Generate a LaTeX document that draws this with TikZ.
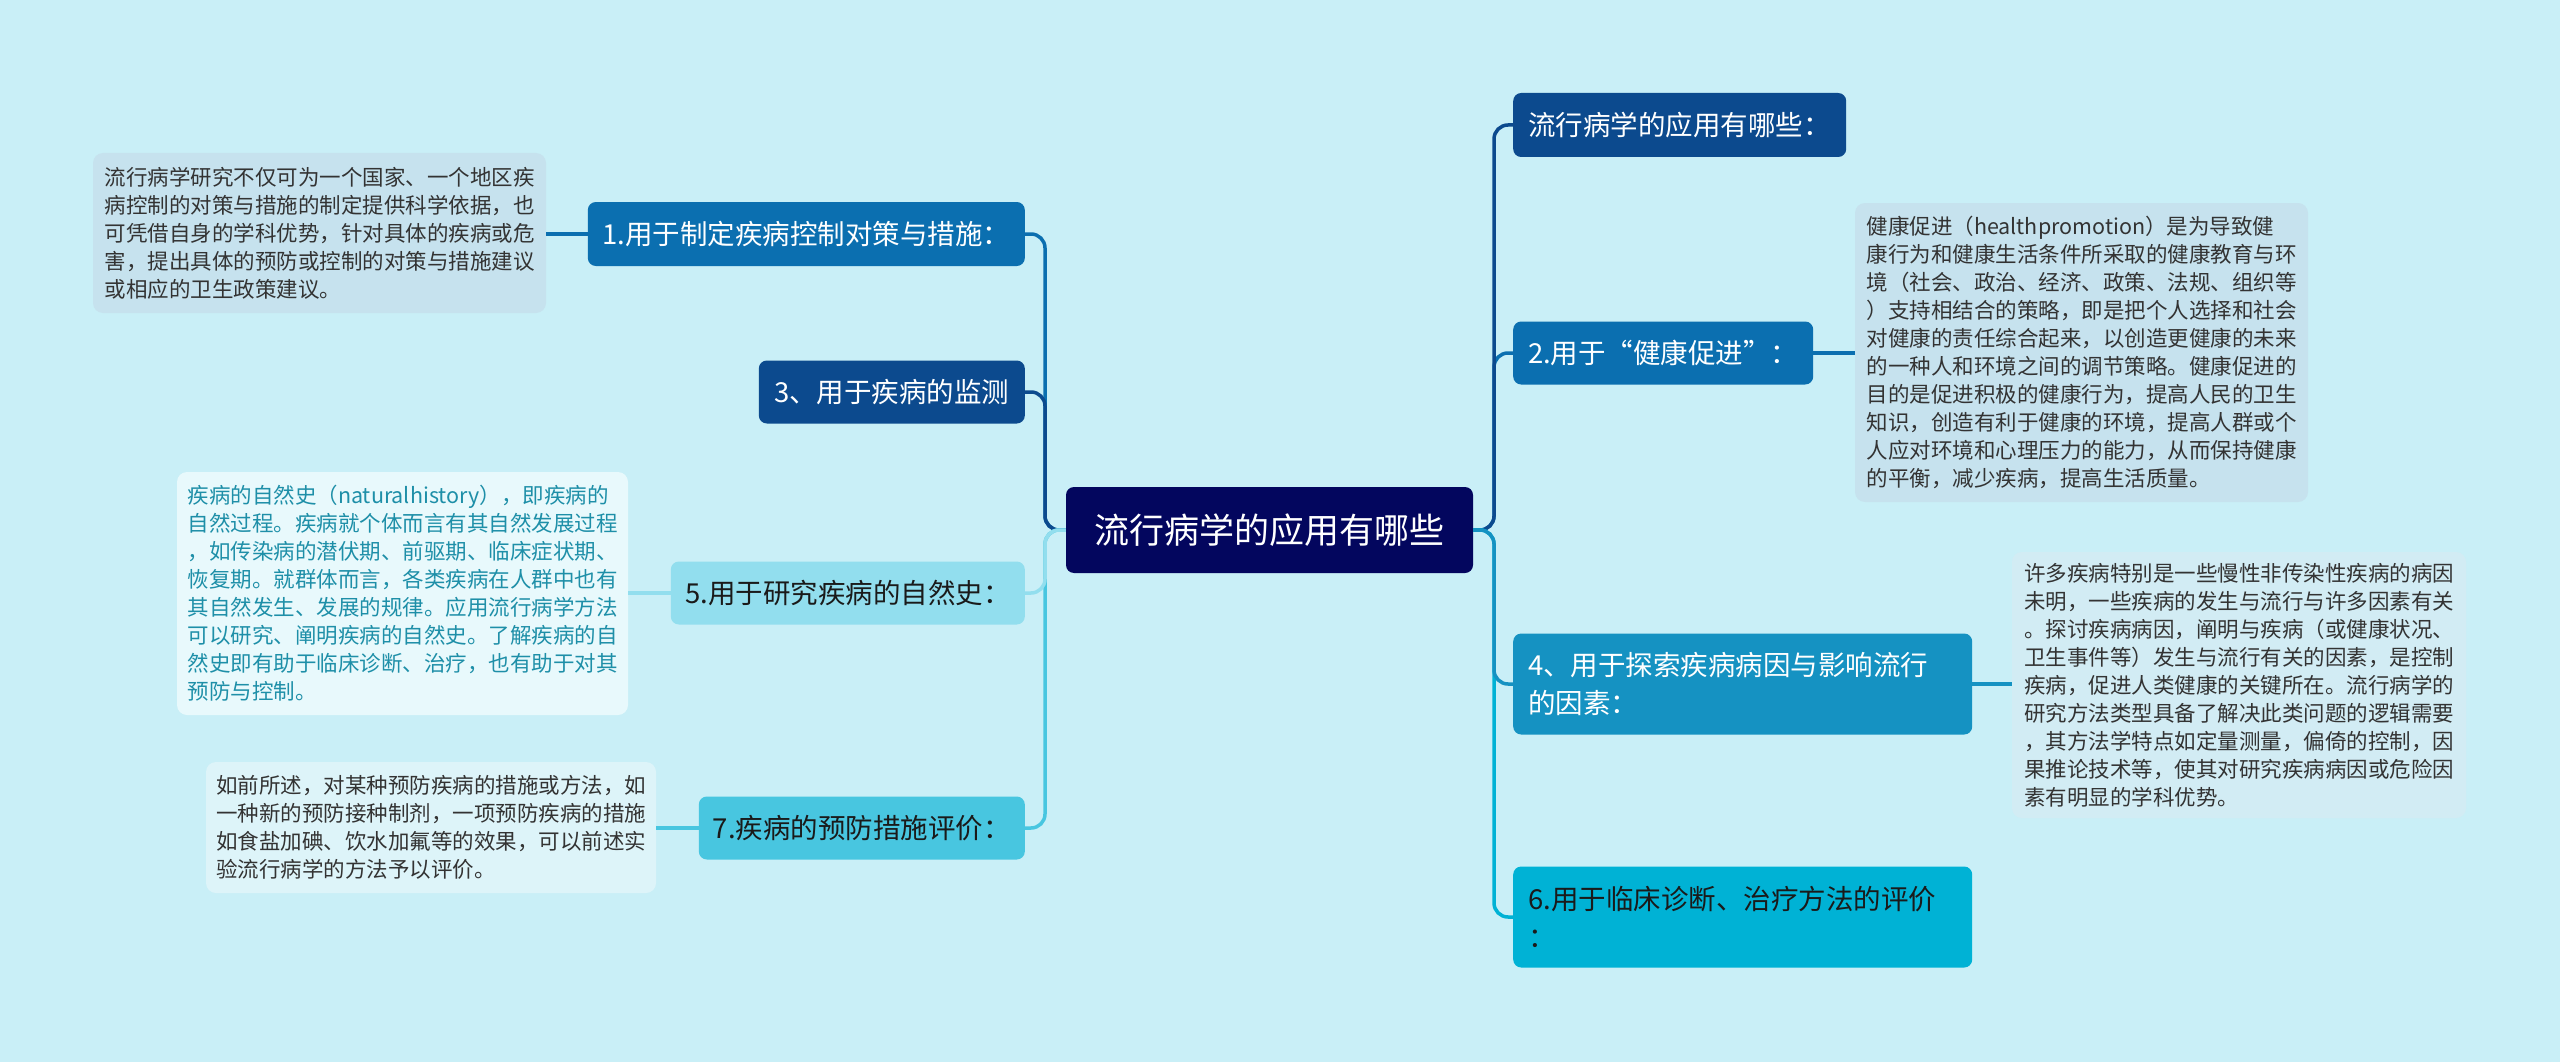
\documentclass[tikz,border=0pt]{standalone}
\usepackage{fontspec}
\newfontfamily\cjk{Noto Sans CJK SC}
\definecolor{bg}{HTML}{C9EFF7}
\definecolor{cnav}{HTML}{03065E}
\definecolor{dblue}{HTML}{0C4A8E}
\definecolor{mblue}{HTML}{0B6FB0}
\definecolor{sblue}{HTML}{1592C2}
\definecolor{cyanA}{HTML}{00B2D5}
\definecolor{mcyan}{HTML}{48C6E0}
\definecolor{lcyan}{HTML}{92DEEE}
\definecolor{dgray}{HTML}{C6E2EE}
\definecolor{dgrayb}{HTML}{D2ECF4}
\definecolor{dlight}{HTML}{E8F9FC}
\definecolor{dlightb}{HTML}{DDF4F9}
\definecolor{txt}{HTML}{333333}
\definecolor{dtxt}{HTML}{1A1A1A}
\definecolor{teal}{HTML}{1E8FA8}
\begin{document}
\begin{tikzpicture}[x=1pt,y=-1pt,
  title/.style={rounded corners=8, inner xsep=12, inner ysep=0, align=left,
    font=\cjk\fontsize{27.5}{38}\selectfont},
  wtitle/.style={title, inner xsep=15, text width=429, minimum height=101, anchor=west},
  detail/.style={rounded corners=10, inner sep=0, align=left,
    font=\cjk\fontsize{21.5}{28}\selectfont, text=txt},
  conn/.style={line width=3.5, rounded corners=14}]
\useasboundingbox[fill=bg] (0,0) rectangle (2560,1062);

% centre
\node[title, fill=cnav, text=white, minimum width=407, minimum height=86,
  font=\cjk\fontsize{35}{40}\selectfont] (c) at (1269.5,530) {流行病学的应用有哪些};
\coordinate (ls) at (1045,530);
\coordinate (rs) at (1494,530);

% left titles
\node[title, fill=mblue, text=white, minimum width=437, minimum height=64, anchor=east] (L1) at (1025,234) {1.用于制定疾病控制对策与措施：};
\node[title, fill=dblue, text=white, minimum width=266, minimum height=63, anchor=east] (L3) at (1025,392) {3、用于疾病的监测};
\node[title, fill=lcyan, text=dtxt, minimum width=354, minimum height=63, anchor=east] (L5) at (1025,593) {5.用于研究疾病的自然史：};
\node[title, fill=mcyan, text=dtxt, minimum width=326, minimum height=63, anchor=east] (L7) at (1025,828) {7.疾病的预防措施评价：};

% right titles
\node[title, fill=dblue, text=white, minimum width=333, minimum height=64, anchor=west] (R0) at (1513,125) {流行病学的应用有哪些：};
\node[title, fill=mblue, text=white, minimum width=300, minimum height=63, anchor=west] (R2) at (1513,353) {2.用于“健康促进”：};
\node[wtitle, fill=sblue, text=white] (R4) at (1513,684) {4、用于探索疾病病因与影响流行\\的因素：};
\node[wtitle, fill=cyanA, text=dtxt] (R6) at (1513,917) {6.用于临床诊断、治疗方法的评价\\：};

% detail boxes
\node[detail, fill=dgray, minimum width=453, minimum height=160] (L1d) at (319.5,233) {流行病学研究不仅可为一个国家、一个地区疾\\病控制的对策与措施的制定提供科学依据，也\\可凭借自身的学科优势，针对具体的疾病或危\\害，提出具体的预防或控制的对策与措施建议\\或相应的卫生政策建议。};
\node[detail, fill=dlight, text=teal, minimum width=451, minimum height=243] (L5d) at (402.5,593.5) {疾病的自然史（naturalhistory），即疾病的\\自然过程。疾病就个体而言有其自然发展过程\\，如传染病的潜伏期、前驱期、临床症状期、\\恢复期。就群体而言，各类疾病在人群中也有\\其自然发生、发展的规律。应用流行病学方法\\可以研究、阐明疾病的自然史。了解疾病的自\\然史即有助于临床诊断、治疗，也有助于对其\\预防与控制。};
\node[detail, fill=dlightb, minimum width=450, minimum height=131] (L7d) at (431,827.5) {如前所述，对某种预防疾病的措施或方法，如\\一种新的预防接种制剂，一项预防疾病的措施\\如食盐加碘、饮水加氟等的效果，可以前述实\\验流行病学的方法予以评价。};
\node[detail, fill=dgray, minimum width=453, minimum height=299] (R2d) at (2081.5,352.5) {健康促进（healthpromotion）是为导致健\\康行为和健康生活条件所采取的健康教育与环\\境（社会、政治、经济、政策、法规、组织等\\）支持相结合的策略，即是把个人选择和社会\\对健康的责任综合起来，以创造更健康的未来\\的一种人和环境之间的调节策略。健康促进的\\目的是促进积极的健康行为，提高人民的卫生\\知识，创造有利于健康的环境，提高人群或个\\人应对环境和心理压力的能力，从而保持健康\\的平衡，减少疾病，提高生活质量。};
\node[detail, fill=dgrayb, minimum width=454, minimum height=266] (R4d) at (2239,685) {许多疾病特别是一些慢性非传染性疾病的病因\\未明，一些疾病的发生与流行与许多因素有关\\。探讨疾病病因，阐明与疾病（或健康状况、\\卫生事件等）发生与流行有关的因素，是控制\\疾病，促进人类健康的关键所在。流行病学的\\研究方法类型具备了解决此类问题的逻辑需要\\，其方法学特点如定量测量，偏倚的控制，因\\果推论技术等，使其对研究疾病病因或危险因\\素有明显的学科优势。};

% connectors: left
\draw[conn, mblue] (c.west) -- (ls) |- (L1.east);
\draw[conn, dblue] (c.west) -- (ls) |- (L3.east);
\draw[conn, mcyan] (c.west) -- (ls) |- (L7.east);
\draw[conn, lcyan] (c.west) -- (ls) |- (L5.east);
% connectors: right
\draw[conn, mblue] (c.east) -- (rs) |- (R2.west);
\draw[conn, dblue] (c.east) -- (rs) |- (R0.west);
\draw[conn, cyanA] (c.east) -- (rs) |- (R6.west);
\draw[conn, sblue] (c.east) -- (rs) |- (R4.west);
% detail connectors
\draw[line width=3.5, mblue] (L1.west) -- (L1.west -| L1d.east);
\draw[line width=3.5, lcyan] (L5.west) -- (L5.west -| L5d.east);
\draw[line width=3.5, mcyan] (L7.west) -- (L7.west -| L7d.east);
\draw[line width=3.5, mblue] (R2.east) -- (R2.east -| R2d.west);
\draw[line width=3.5, sblue] (R4.east) -- (R4.east -| R4d.west);
\end{tikzpicture}
\end{document}
